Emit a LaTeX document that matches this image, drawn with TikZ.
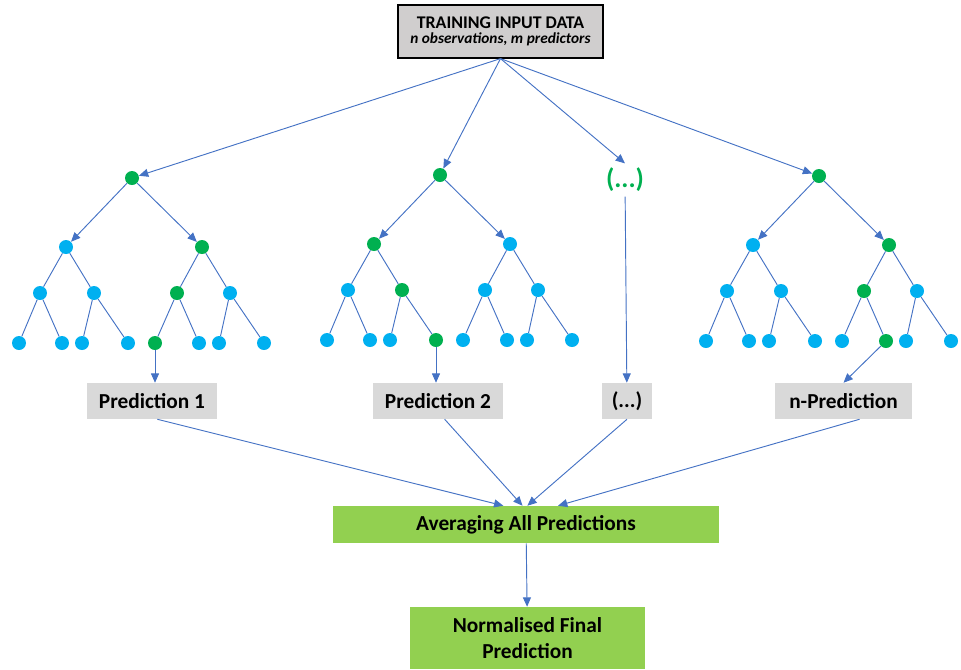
\documentclass[tikz,border=0pt]{standalone}
\usepackage{fontspec}
\setmainfont{Carlito}
\usetikzlibrary{shapes.geometric, arrows.meta}
\definecolor{linkblue}{HTML}{4472C4}
\definecolor{splitgreen}{HTML}{00B050}
\definecolor{leafblue}{HTML}{00B0F0}
\definecolor{predgrey}{HTML}{D9D9D9}
\definecolor{inputgrey}{HTML}{D0CECE}
\definecolor{avggreen}{HTML}{92D050}
\tikzstyle{inputbox} = [rectangle, minimum width=153.75pt, minimum height=39.75pt, inner sep=0pt, align=center, draw=black, line width=0.9pt, fill=inputgrey]
\tikzstyle{predbox} = [rectangle, minimum height=27pt, inner sep=0pt, text centered, fill=predgrey, font=\fontsize{16}{19}\selectfont\bfseries]
\tikzstyle{resultbox} = [rectangle, inner sep=0pt, align=center, fill=avggreen, font=\fontsize{16}{19.5}\selectfont\bfseries]
\tikzstyle{split} = [circle, minimum size=10.5pt, inner sep=0pt, fill=splitgreen]
\tikzstyle{leaf} = [circle, minimum size=10.5pt, inner sep=0pt, fill=leafblue]
\tikzstyle{arrow} = [linkblue, line width=0.7pt, ->, >={Triangle[length=7pt, width=6pt]}]
\tikzstyle{branch} = [linkblue, line width=0.7pt]

\begin{document}
\begin{tikzpicture}[x=0.75pt, y=-0.75pt]
    \useasboundingbox (0,0) rectangle (961,669);

    % Nodes
    \node (input) [inputbox] at (500.5,31.5) {{\fontsize{13.4}{16}\selectfont\bfseries TRAINING INPUT DATA}\\[-1pt]{\fontsize{11.5}{14}\selectfont\bfseries\itshape n observations, m predictors}};

    % tree 1
    \node (t1) [split] at (132,178) {};
    \node (t1l) [leaf] at (66,247) {};
    \node (t1r) [split] at (202,247) {};
    \node (t1ll) [leaf] at (40,293) {};
    \node (t1lr) [leaf] at (94,293) {};
    \node (t1rl) [split] at (177,293) {};
    \node (t1rr) [leaf] at (230,293) {};
    \node (t1lll) [leaf] at (19,343) {};
    \node (t1llr) [leaf] at (62,343) {};
    \node (t1lrl) [leaf] at (82,343) {};
    \node (t1lrr) [leaf] at (128,343) {};
    \node (t1rll) [split] at (155,343) {};
    \node (t1rlr) [leaf] at (199,343) {};
    \node (t1rrl) [leaf] at (219,343) {};
    \node (t1rrr) [leaf] at (264,343) {};

    % tree 2
    \node (t2) [split] at (440,175) {};
    \node (t2l) [split] at (374,244) {};
    \node (t2r) [leaf] at (510,244) {};
    \node (t2ll) [leaf] at (348,290) {};
    \node (t2lr) [split] at (402,290) {};
    \node (t2rl) [leaf] at (485,290) {};
    \node (t2rr) [leaf] at (538,290) {};
    \node (t2lll) [leaf] at (327,340) {};
    \node (t2llr) [leaf] at (370,340) {};
    \node (t2lrl) [leaf] at (390,340) {};
    \node (t2lrr) [split] at (436,340) {};
    \node (t2rll) [leaf] at (463,340) {};
    \node (t2rlr) [leaf] at (507,340) {};
    \node (t2rrl) [leaf] at (527,340) {};
    \node (t2rrr) [leaf] at (572,340) {};

    % the other trees
    \node (dots) [text=splitgreen, font=\fontsize{20}{24}\selectfont\bfseries] at (625,180) {(...)};

    % tree n
    \node (tn) [split] at (819,176) {};
    \node (tnl) [leaf] at (753,245) {};
    \node (tnr) [split] at (889,245) {};
    \node (tnll) [leaf] at (727,291) {};
    \node (tnlr) [leaf] at (781,291) {};
    \node (tnrl) [split] at (864,291) {};
    \node (tnrr) [leaf] at (917,291) {};
    \node (tnlll) [leaf] at (706,341) {};
    \node (tnllr) [leaf] at (749,341) {};
    \node (tnlrl) [leaf] at (769,341) {};
    \node (tnlrr) [leaf] at (815,341) {};
    \node (tnrll) [leaf] at (842,341) {};
    \node (tnrlr) [split] at (886,341) {};
    \node (tnrrl) [leaf] at (906,341) {};
    \node (tnrrr) [leaf] at (951,341) {};

    \node (pred1) [predbox, minimum width=97.5pt] at (152,401) {Prediction 1};
    \node (pred2) [predbox, minimum width=97.5pt] at (438,401) {Prediction 2};
    \node (dotsbox) [predbox, minimum width=37.5pt] at (627,401) {(...)};
    \node (npred) [predbox, minimum width=102.75pt] at (843.5,401) {n-Prediction};
    \node (avg) [resultbox, minimum width=289.5pt, minimum height=27.75pt] at (526,524.5) {Averaging All Predictions};
    \node (final) [resultbox, minimum width=176pt, minimum height=46.5pt] at (527.5,638) {Normalised Final\\Prediction};

    % Arrows
    \draw [arrow] (input.south) -- (t1);
    \draw [arrow] (input.south) -- (t2);
    \draw [arrow] (input.south) -- (dots.north);
    \draw [arrow] (input.south) -- (tn);

    \draw [arrow] (t1) -- (t1l);
    \draw [arrow] (t1) -- (t1r);
    \draw [branch] (t1l) -- (t1ll) (t1l) -- (t1lr) (t1r) -- (t1rl) (t1r) -- (t1rr);
    \draw [branch] (t1ll) -- (t1lll) (t1ll) -- (t1llr) (t1lr) -- (t1lrl) (t1lr) -- (t1lrr);
    \draw [branch] (t1rl) -- (t1rll) (t1rl) -- (t1rlr) (t1rr) -- (t1rrl) (t1rr) -- (t1rrr);

    \draw [arrow] (t2) -- (t2l);
    \draw [arrow] (t2) -- (t2r);
    \draw [branch] (t2l) -- (t2ll) (t2l) -- (t2lr) (t2r) -- (t2rl) (t2r) -- (t2rr);
    \draw [branch] (t2ll) -- (t2lll) (t2ll) -- (t2llr) (t2lr) -- (t2lrl) (t2lr) -- (t2lrr);
    \draw [branch] (t2rl) -- (t2rll) (t2rl) -- (t2rlr) (t2rr) -- (t2rrl) (t2rr) -- (t2rrr);

    \draw [arrow] (tn) -- (tnl);
    \draw [arrow] (tn) -- (tnr);
    \draw [branch] (tnl) -- (tnll) (tnl) -- (tnlr) (tnr) -- (tnrl) (tnr) -- (tnrr);
    \draw [branch] (tnll) -- (tnlll) (tnll) -- (tnllr) (tnlr) -- (tnlrl) (tnlr) -- (tnlrr);
    \draw [branch] (tnrl) -- (tnrll) (tnrl) -- (tnrlr) (tnrr) -- (tnrrl) (tnrr) -- (tnrrr);

    \draw [arrow] (t1rll) -- (t1rll |- pred1.north);
    \draw [arrow] (t2lrr) -- (t2lrr |- pred2.north);
    \draw [arrow] (dots) -- (dotsbox);
    \draw [arrow] (tnrlr) -- (npred.north);

    \draw [arrow] ([xshift=4pt]pred1.south) -- ([xshift=-17pt]avg.north);
    \draw [arrow] ([xshift=5pt]pred2.south) -- ([xshift=-2.6pt]avg.north);
    \draw [arrow] (dotsbox.south) -- ([xshift=1pt]avg.north);
    \draw [arrow] ([xshift=12pt]npred.south) -- ([xshift=24pt]avg.north);
    \draw [arrow] (avg) -- (final);

\end{tikzpicture}
\end{document}
